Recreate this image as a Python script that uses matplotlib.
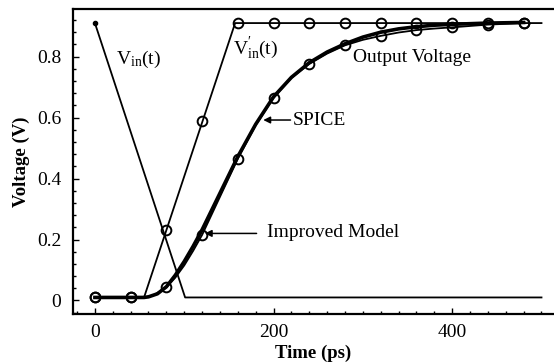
import matplotlib
matplotlib.use("Agg")
import matplotlib.pyplot as plt
import numpy as np
from matplotlib.ticker import MultipleLocator

plt.rcParams['font.family'] = ['Liberation Serif', 'DejaVu Serif']
plt.rcParams['mathtext.fontset'] = 'custom'
plt.rcParams['mathtext.rm'] = 'Liberation Serif'
plt.rcParams['mathtext.it'] = 'Liberation Serif:italic'
plt.rcParams['mathtext.bf'] = 'Liberation Serif:bold'

# input ramp V_in(t)
vin_t = [0, 101, 500]
vin_v = [0.91, 0.01, 0.01]

# equivalent input ramp V'_in(t)
vin2_t = [0, 55, 157, 500]
vin2_v = [0.01, 0.01, 0.91, 0.91]
vin2_mark_t = [0, 40, 80, 120, 160, 200, 240, 280, 320, 360, 400, 440, 480]
vin2_mark_v = [0.01, 0.01, 0.23, 0.59, 0.91, 0.91, 0.91, 0.91, 0.91, 0.91, 0.91, 0.91, 0.91]

# output voltage, SPICE
spice_t = [0, 55, 60, 70, 80, 90, 100, 110, 120, 140, 160, 180, 200, 220, 240,
           260, 280, 300, 320, 340, 360, 380, 400, 440, 480]
spice_v = [0.01, 0.01, 0.012, 0.022, 0.045, 0.083, 0.128, 0.178, 0.232, 0.352, 0.472,
           0.578, 0.668, 0.732, 0.78, 0.815, 0.842, 0.864, 0.88, 0.891, 0.898, 0.903,
           0.906, 0.91, 0.912]

# output voltage, improved model
model_t = [0, 40, 55, 65, 80, 90, 100, 110, 120, 140, 160, 180, 200, 220, 240,
           260, 280, 300, 320, 340, 360, 380, 400, 440, 480]
model_v = [0.01, 0.01, 0.01, 0.016, 0.043, 0.075, 0.115, 0.163, 0.215, 0.34, 0.465,
           0.575, 0.665, 0.73, 0.776, 0.81, 0.837, 0.855, 0.868, 0.879, 0.887,
           0.892, 0.896, 0.905, 0.91]
model_mark_t = [0, 40, 80, 120, 160, 200, 240, 280, 320, 360, 400, 440, 480]
model_mark_v = [0.01, 0.01, 0.043, 0.215, 0.465, 0.665, 0.776, 0.837, 0.868,
                0.887, 0.896, 0.905, 0.91]

fig = plt.figure(figsize=(5.54, 3.62), dpi=100)
ax = fig.add_axes([0.131, 0.132, 0.869, 0.843])

lw = 1.3
ax.plot(vin_t, vin_v, color='black', lw=lw)
ax.plot(vin_t[:1], vin_v[:1], 'o', color='black', ms=3)

ax.plot(vin2_t, vin2_v, color='black', lw=lw)
ax.plot(vin2_mark_t, vin2_mark_v, 'o', mfc='none', mec='black', mew=1.4, ms=7)

ax.plot(spice_t, spice_v, color='black', lw=2.6)
ax.plot(model_t, model_v, color='black', lw=lw)
ax.plot(model_mark_t, model_mark_v, 'o', mfc='none', mec='black', mew=1.4, ms=7)

fs = 14
ax.text(23.5, 0.775, r'V$_{\mathrm{in}}$(t)', fontsize=fs, va='baseline')
ax.text(154.5, 0.811, r"V$^{\prime}_{\mathrm{in}}$(t)", fontsize=fs, va='baseline')
ax.text(289, 0.783, 'Output Voltage', fontsize=fs, va='baseline')

arrow = dict(arrowstyle='-|>', color='black', lw=1.1, mutation_scale=10,
             shrinkA=0, shrinkB=0)
ax.annotate('', xy=(188.5, 0.592), xytext=(219, 0.592), arrowprops=arrow)
ax.text(221.5, 0.575, 'SPICE', fontsize=fs, va='baseline')
ax.annotate('', xy=(123, 0.22), xytext=(181, 0.22), arrowprops=arrow)
ax.text(193, 0.207, 'Improved Model', fontsize=fs, va='baseline')

ax.set_xlim(-25, 514)
ax.set_ylim(-0.045, 0.956)
ax.xaxis.set_major_locator(MultipleLocator(200))
ax.xaxis.set_minor_locator(MultipleLocator(20))
ax.yaxis.set_minor_locator(MultipleLocator(0.04))
ax.set_yticks([0, 0.2, 0.4, 0.6, 0.8])
ax.set_yticklabels(['0', '0.2', '0.4', '0.6', '0.8'])

ax.tick_params(which='both', direction='in', labelsize=fs, width=1.0)
ax.tick_params(which='major', length=4.5)
ax.tick_params(which='minor', length=2.5)
ax.tick_params(axis='x', pad=7)
ax.tick_params(axis='y', pad=8)
ax.tick_params(top=False, right=False)

for side in ['left', 'bottom', 'top']:
    ax.spines[side].set_linewidth(1.6)
ax.spines['right'].set_visible(False)

ax.set_xlabel('Time (ps)', fontsize=13.5, fontweight='bold', labelpad=3)
ax.set_ylabel('Voltage (V)', fontsize=13.5, fontweight='bold', labelpad=5)

fig.savefig('out.png', dpi=100)
